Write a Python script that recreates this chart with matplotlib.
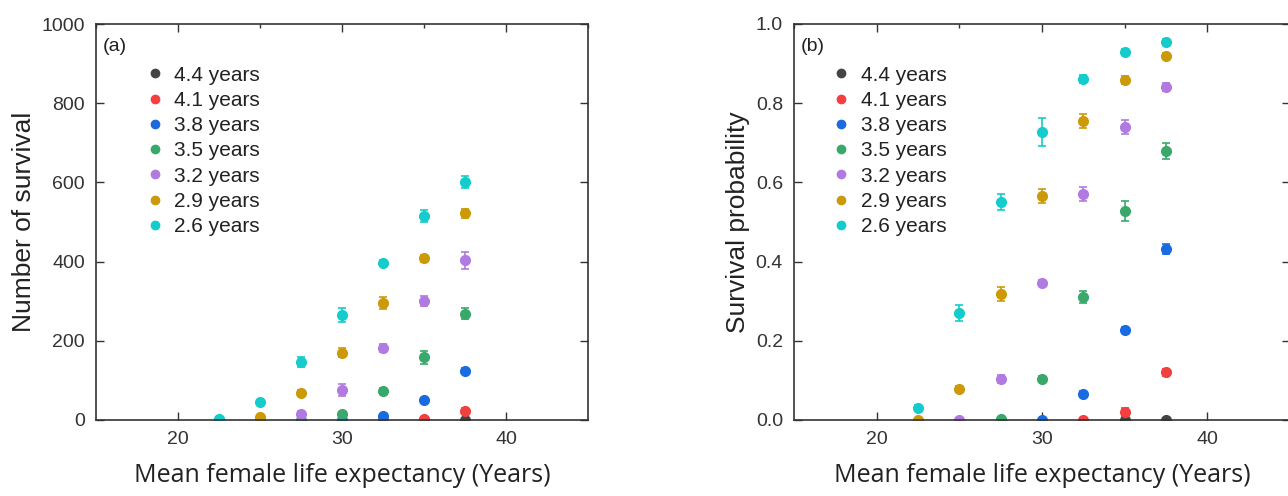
import numpy as np
import matplotlib.pyplot as plt
from matplotlib.lines import Line2D
from matplotlib.ticker import MultipleLocator

x = [22.5, 25, 27.5, 30, 32.5, 35, 37.5]
labels = ['4.4 years', '4.1 years', '3.8 years', '3.5 years',
          '3.2 years', '2.9 years', '2.6 years']
colors = ['#444444', '#f04040', '#1a6ae0', '#3aa86b',
          '#b07ae0', '#cc9a08', '#14cccc']
# index of first x point for each series
start = [5, 4, 3, 2, 1, 0, 0]

# (a) number of survival
num = [
    [0, 0],
    [0, 2, 23],
    [0, 10, 50, 124],
    [0, 15, 74, 158, 268],
    [0, 15, 76, 182, 301, 403],
    [0, 8, 68, 170, 296, 408, 522],
    [2, 45, 146, 265, 396, 515, 601],
]
num_err = [
    [0, 0],
    [0, 2, 8],
    [0, 3, 5, 8],
    [0, 6, 8, 17, 14],
    [0, 8, 16, 10, 12, 22],
    [0, 4, 8, 12, 15, 8, 12],
    [2, 5, 12, 18, 8, 15, 15],
]

# (b) survival probability
prob = [
    [0, 0],
    [0, 0.02, 0.12],
    [0, 0.066, 0.228, 0.432],
    [0.003, 0.104, 0.31, 0.528, 0.68],
    [0, 0.104, 0.346, 0.57, 0.74, 0.84],
    [0, 0.078, 0.318, 0.566, 0.755, 0.858, 0.92],
    [0.03, 0.27, 0.55, 0.727, 0.86, 0.93, 0.955],
]
prob_err = [
    [0, 0],
    [0, 0.01, 0.01],
    [0, 0.008, 0.008, 0.012],
    [0.002, 0.008, 0.015, 0.025, 0.02],
    [0, 0.01, 0.008, 0.018, 0.018, 0.01],
    [0, 0.008, 0.018, 0.018, 0.018, 0.01, 0.008],
    [0.008, 0.02, 0.02, 0.035, 0.01, 0.008, 0.006],
]

plt.rcParams['font.family'] = ['Liberation Sans', 'DejaVu Sans']
dark = '#333333'

fig = plt.figure(figsize=(12.88, 4.96), dpi=100)
ax1 = fig.add_axes([96 / 1288, 76 / 496, 492 / 1288, 396 / 496])
ax2 = fig.add_axes([794 / 1288, 76 / 496, 496 / 1288, 396 / 496])


def draw(ax, vals, errs, ylim, ystep, ylabel, tag, fmt, legx):
    for i in range(len(labels)):
        xs = x[start[i]:]
        ax.errorbar(xs, vals[i], yerr=errs[i], fmt='o', color=colors[i],
                    ms=7, capsize=3, elinewidth=1.2, capthick=1.2)
    ax.set_xlim(15, 45)
    ax.set_ylim(*ylim)
    ax.xaxis.set_major_locator(MultipleLocator(10))
    ax.xaxis.set_minor_locator(MultipleLocator(5))
    ax.yaxis.set_major_locator(MultipleLocator(ystep))
    ax.yaxis.set_major_formatter(fmt)
    ax.tick_params(direction='in', top=True, right=True, length=6,
                   width=1, colors=dark, labelsize=14, pad=8)
    ax.tick_params(axis='x', which='minor', direction='in', bottom=False,
                   top=True, length=3, width=1, colors=dark)
    for s in ax.spines.values():
        s.set_color(dark)
        s.set_linewidth(1.2)
    ax.set_xlabel('Mean female life expectancy (Years)', family='Open Sans',
                  fontsize=18, color='#222222', labelpad=11)
    ax.set_ylabel(ylabel, fontsize=19, color='#222222', labelpad=4)
    ax.text(0.014, 0.965, tag, transform=ax.transAxes, fontsize=14,
            color='#222222', va='top', ha='left')
    handles = [Line2D([], [], marker='o', ls='', ms=6, color=c) for c in colors]
    ax.legend(handles, labels, loc='upper left', bbox_to_anchor=(legx, 0.895),
              frameon=False, fontsize=15, handlelength=0.8,
              handletextpad=0.55, labelspacing=0.3, borderaxespad=0,
              borderpad=0, labelcolor='#222222')


draw(ax1, num, num_err, (0, 1000), 200, 'Number of survival', '(a)',
     '{x:.0f}', 0.102)
draw(ax2, prob, prob_err, (0, 1.0), 0.2, 'Survival probability', '(b)',
     '{x:.1f}', 0.078)

fig.savefig('out.png', dpi=100)
